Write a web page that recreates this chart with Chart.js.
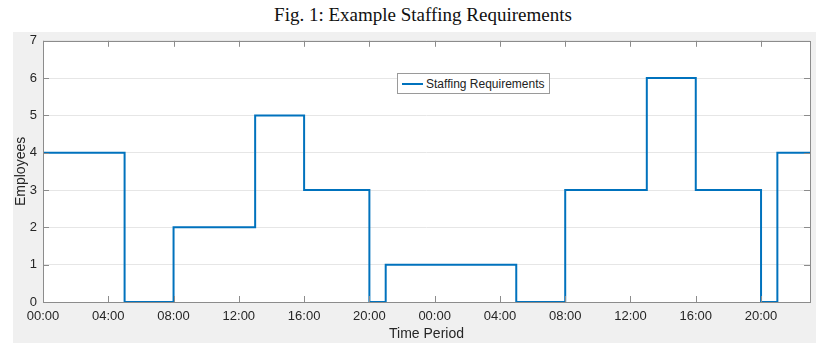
<!DOCTYPE html>
<html>
<head>
<meta charset="utf-8">
<script src="https://cdn.jsdelivr.net/npm/chart.js@4/dist/chart.umd.min.js"></script>
<style>
    body { margin: 0; background: #fff; width: 816px; height: 343px; overflow: hidden; position: relative; }
    #title { position: absolute; left: 0; top: 4px; width: 846px; text-align: center; font-family: "Liberation Serif", "Times New Roman", serif; font-size: 19px; line-height: 22px; color: #111; }
    #panel { position: absolute; left: 13px; top: 32px; width: 803px; height: 311px; background: #f0f0f0; }
    #staffChart { position: absolute; left: 13px; top: 27px; }
    #legend { position: absolute; left: 397px; top: 73px; height: 19px; padding: 0 4px 0 4px; background: #fff; border: 1px solid #9a9a9a;
        font-family: "Liberation Sans", Arial, sans-serif; font-size: 12px; color: #222; display: flex; align-items: center; }
    #legend span.swatch { display: inline-block; width: 21px; height: 2px; background: #0072BD; margin-right: 3px; }
</style>
</head>
<body>
<div id="title">Fig. 1: Example Staffing Requirements</div>
<div id="panel"></div>
<canvas id="staffChart" width="803" height="316"></canvas>
<div id="legend"><span class="swatch"></span>Staffing Requirements</div>
<script>
// hour at which each staffing level starts, and the level from then on
const hours = [0, 5, 8, 13, 16, 20, 21, 29, 32, 37, 40, 44, 45, 47];
const staff = [4, 0, 2, 5, 3, 0, 1, 0, 3, 6, 3, 0, 4, 4];
const xTicks = [0, 4, 8, 12, 16, 20, 24, 28, 32, 36, 40, 44];
const yTicks = [0, 1, 2, 3, 4, 5, 6, 7];

const axisColor = '#8c8c8c';
const textColor = '#262626';

// MATLAB style: ticks point inward, on all four sides
const innerTicks = {
    id: 'innerTicks',
    afterDraw(chart) {
        const { ctx, chartArea: a, scales } = chart;
        ctx.save();
        ctx.strokeStyle = axisColor;
        ctx.lineWidth = 1;
        ctx.beginPath();
        xTicks.forEach(v => {
            const px = Math.round(scales.x.getPixelForValue(v)) + 0.5;
            ctx.moveTo(px, a.bottom); ctx.lineTo(px, a.bottom - 6);
            ctx.moveTo(px, a.top); ctx.lineTo(px, a.top + 6);
        });
        yTicks.forEach(v => {
            const py = Math.round(scales.y.getPixelForValue(v)) + 0.5;
            ctx.moveTo(a.left, py); ctx.lineTo(a.left + 6, py);
            ctx.moveTo(a.right, py); ctx.lineTo(a.right - 6, py);
        });
        ctx.stroke();
        ctx.strokeRect(Math.round(a.left) + 0.5, Math.round(a.top) + 0.5, Math.round(a.right - a.left), Math.round(a.bottom - a.top));
        ctx.restore();
    }
};

const plotBg = {
    id: 'plotBg',
    beforeDraw(chart) {
        const { ctx, chartArea: a } = chart;
        ctx.save();
        ctx.fillStyle = '#ffffff';
        ctx.fillRect(a.left, a.top, a.right - a.left, a.bottom - a.top);
        ctx.restore();
    }
};

new Chart(document.getElementById('staffChart'), {
    type: 'line',
    data: {
        datasets: [{
            label: 'Staffing Requirements',
            data: hours.map((h, i) => ({ x: h, y: staff[i] })),
            stepped: true,
            borderColor: '#0072BD',
            borderWidth: 2,
            pointRadius: 0,
            fill: false
        }]
    },
    options: {
        responsive: false,
        animation: false,
        layout: { padding: { left: 0, right: 6, top: 0, bottom: 0 } },
        plugins: { legend: { display: false }, tooltip: { enabled: false } },
        scales: {
            x: {
                type: 'linear',
                min: 0,
                max: 47,
                afterBuildTicks: scale => { scale.ticks = xTicks.map(v => ({ value: v })); },
                afterFit: scale => { scale.height = 41; },
                grid: { display: false, drawTicks: false },
                border: { display: false },
                ticks: {
                    padding: 7,
                    maxRotation: 0,
                    color: textColor,
                    font: { family: 'Liberation Sans', size: 13 },
                    callback: v => String(v % 24).padStart(2, '0') + ':00'
                },
                title: {
                    display: true,
                    text: 'Time Period',
                    color: textColor,
                    padding: { top: 0, bottom: 0 },
                    font: { family: 'Liberation Sans', size: 14 }
                }
            },
            y: {
                min: 0,
                max: 7,
                afterBuildTicks: scale => { scale.ticks = yTicks.map(v => ({ value: v })); },
                afterFit: scale => { scale.width = 30; },
                grid: { color: '#e6e6e6', drawTicks: false },
                border: { display: false },
                ticks: {
                    padding: 6,
                    color: textColor,
                    font: { family: 'Liberation Sans', size: 13 }
                },
                title: {
                    display: true,
                    text: 'Employees',
                    color: textColor,
                    padding: 0,
                    font: { family: 'Liberation Sans', size: 14 }
                }
            }
        }
    },
    plugins: [plotBg, innerTicks]
});
</script>
</body>
</html>
